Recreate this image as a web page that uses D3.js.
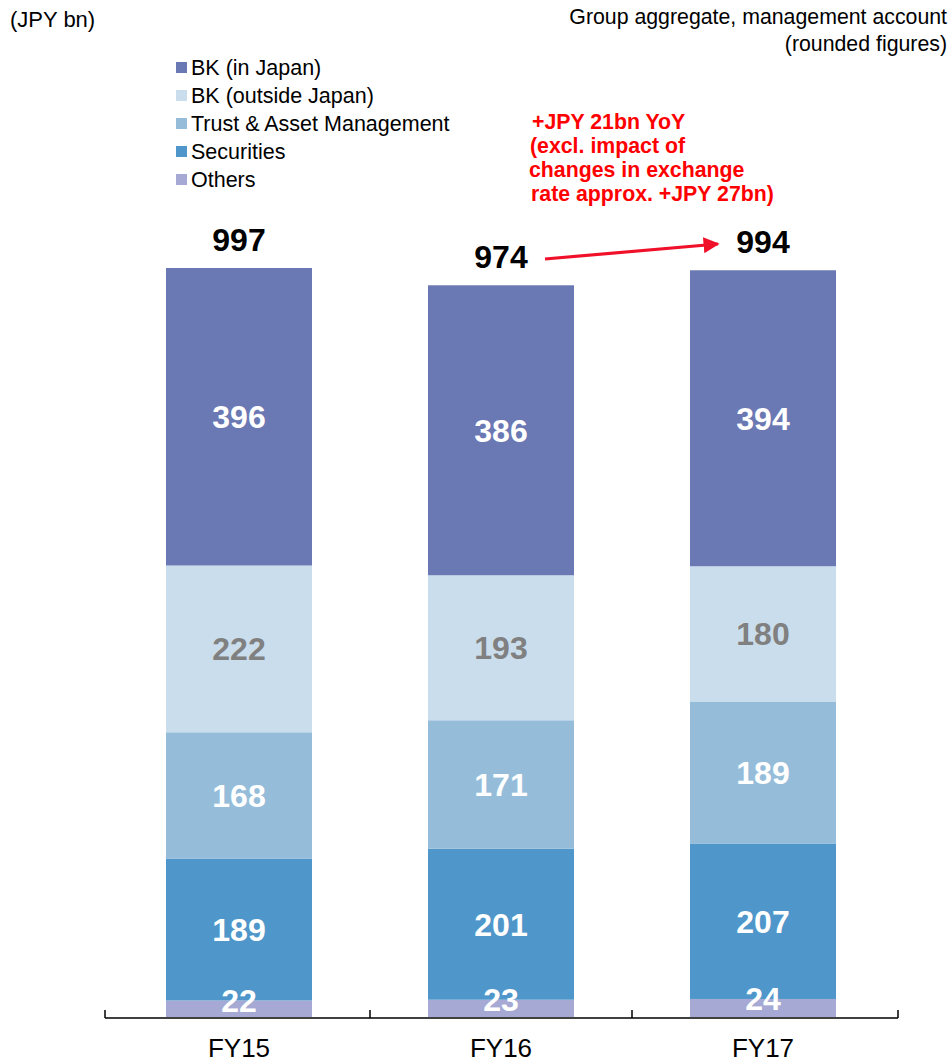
<!DOCTYPE html>
<html><head><meta charset="utf-8">
<script src="https://cdn.jsdelivr.net/npm/d3@7"></script>
<style>body{margin:0;background:#fff;}svg{display:block;font-family:"Liberation Sans",Arial,sans-serif;}</style>
</head><body>
<svg id="c" width="952" height="1062"></svg>
<script>
const categories = ["FY15", "FY16", "FY17"];
const seriesNames = ["Others", "Securities", "Trust & Asset Management", "BK (outside Japan)", "BK (in Japan)"];
const others = [22, 23, 24];
const securities = [189, 201, 207];
const trust = [168, 171, 189];
const bkOutside = [222, 193, 180];
const bkJapan = [396, 386, 394];
const totals = [997, 974, 994];
const colors = ["#A5A9D3", "#4F97CA", "#95BDDA", "#CADDEC", "#6A78B4"];
const labelColors = ["#fff", "#fff", "#fff", "#808080", "#fff"];
const legendOrder = ["BK (in Japan)", "BK (outside Japan)", "Trust & Asset Management", "Securities", "Others"];
const noteLines = ["+JPY 21bn YoY", "(excl. impact of", "changes in exchange", "rate approx. +JPY 27bn)"];

const values = [others, securities, trust, bkOutside, bkJapan];
const svg = d3.select("#c");
const x = d3.scaleBand().domain(categories).range([108, 894]).padding(0);
const y = d3.scaleLinear().domain([0, 997]).range([1017, 268]);
const barW = 146;

const rows = categories.map((c, i) => {
  const r = {cat: c};
  seriesNames.forEach((s, k) => r[s] = values[k][i]);
  return r;
});
const stacked = d3.stack().keys(seriesNames)(rows);

const rectG = svg.append("g");
const labG = svg.append("g");
stacked.forEach((layer, k) => {
  rectG.append("g").selectAll("rect").data(layer).join("rect")
    .attr("x", d => x(d.data.cat) + x.bandwidth()/2 - barW/2)
    .attr("width", barW)
    .attr("y", d => y(d[1]))
    .attr("height", d => y(d[0]) - y(d[1]))
    .attr("fill", colors[k]);
  labG.append("g").selectAll("text").data(layer).join("text")
    .attr("x", d => x(d.data.cat) + x.bandwidth()/2)
    .attr("y", d => {
      const h = y(d[0]) - y(d[1]);
      return h < 30 ? y(d[1]) : (y(d[0]) + y(d[1]))/2;
    })
    .attr("dy", "0.36em")
    .attr("text-anchor", "middle")
    .attr("font-size", 32).attr("font-weight", "bold")
    .attr("fill", labelColors[k])
    .text(d => d.data[seriesNames[k]]);
});

// totals
svg.append("g").selectAll("text").data(categories).join("text")
  .attr("x", c => x(c) + x.bandwidth()/2)
  .attr("y", (c, i) => y(totals[i]) - 29)
  .attr("dy", "0.36em").attr("text-anchor", "middle")
  .attr("font-size", 32).attr("font-weight", "bold").attr("fill", "#000")
  .text((c, i) => totals[i]);

// axis
const axis = d3.axisBottom(x).tickSize(0).tickPadding(0);
const ag = svg.append("g").attr("transform", "translate(0,1018)").call(axis);
ag.select(".domain").remove();
ag.selectAll("text").attr("dy", null).attr("y", 39).attr("font-size", 26).attr("fill", "#000").attr("font-family", "Liberation Sans, Arial, sans-serif");
svg.append("line").attr("x1", 105).attr("x2", 898).attr("y1", 1018).attr("y2", 1018).attr("stroke", "#000").attr("stroke-width", 1.5);
const tickPos = [105, x("FY16"), x("FY17"), 898];
svg.append("g").selectAll("line").data(tickPos).join("line")
  .attr("x1", d => d).attr("x2", d => d).attr("y1", 1010).attr("y2", 1018)
  .attr("stroke", "#000").attr("stroke-width", 1.5);

// corner texts
svg.append("text").attr("x", 10).attr("y", 27).attr("font-size", 22).text("(JPY bn)");
svg.append("text").attr("x", 947).attr("y", 24).attr("font-size", 21.3).attr("text-anchor", "end").text("Group aggregate, management account");
svg.append("text").attr("x", 947).attr("y", 51).attr("font-size", 21.3).attr("text-anchor", "end").text("(rounded figures)");

// legend
const lg = svg.append("g").selectAll("g").data(legendOrder).join("g")
  .attr("transform", (d, i) => `translate(176,${67 + i*28})`);
lg.append("rect").attr("x", 0).attr("y", -5).attr("width", 11).attr("height", 11)
  .attr("fill", d => colors[seriesNames.indexOf(d)]);
lg.append("text").attr("x", 15).attr("dy", "0.36em").attr("font-size", 21.5).attr("fill", "#000").text(d => d);

// annotation
svg.append("g").selectAll("text").data(noteLines).join("text")
  .attr("x", (d, i) => [532, 530, 529, 531][i])
  .attr("y", (d, i) => 129 + i*24)
  .attr("font-size", 21.3).attr("font-weight", "bold").attr("fill", "#FF0000")
  .text(d => d);

const defs = svg.append("defs");
defs.append("marker").attr("id", "ah").attr("viewBox", "0 0 10 10").attr("refX", 9).attr("refY", 5)
  .attr("markerWidth", 5).attr("markerHeight", 5).attr("orient", "auto").attr("markerUnits", "strokeWidth")
  .append("path").attr("d", "M0,0 L10,5 L0,10 Z").attr("fill", "#F0102A");
svg.append("line").attr("x1", 545).attr("y1", 259).attr("x2", 718).attr("y2", 244)
  .attr("stroke", "#F0102A").attr("stroke-width", 3.2).attr("marker-end", "url(#ah)");
</script>
</body></html>
